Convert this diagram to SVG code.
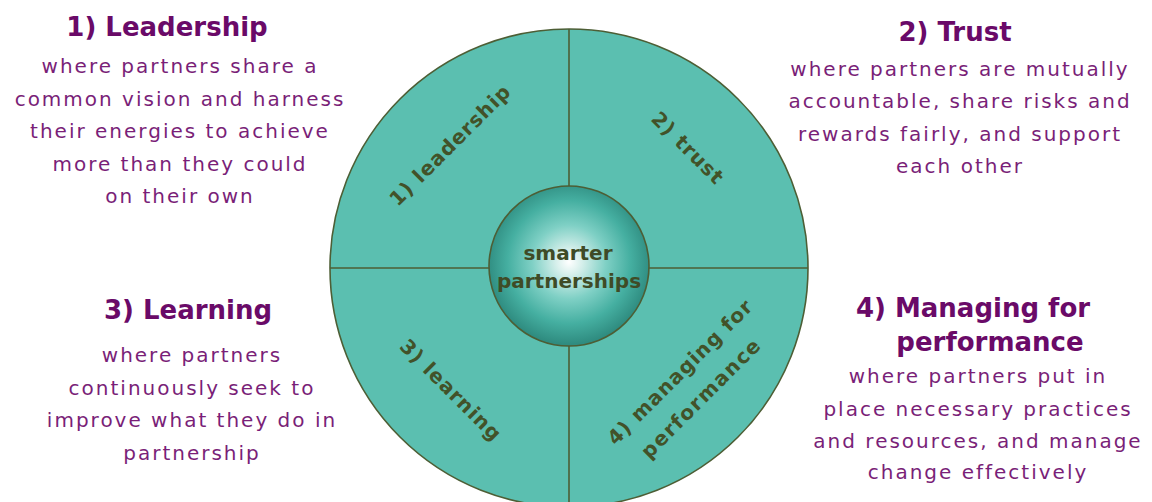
<svg xmlns="http://www.w3.org/2000/svg" width="1152" height="502" viewBox="0 0 1152 502">
  <defs>
    <radialGradient id="sphere" cx="569" cy="262" r="82" gradientUnits="userSpaceOnUse">
      <stop offset="0" stop-color="#ffffff"/>
      <stop offset="0.15" stop-color="#d8f0ec"/>
      <stop offset="0.45" stop-color="#7fd0c5"/>
      <stop offset="0.75" stop-color="#45afa1"/>
      <stop offset="1" stop-color="#2f8c80"/>
    </radialGradient>
    <style>
      .head { font-family: "DejaVu Sans", Verdana, sans-serif; font-weight: bold; font-size: 26px; fill: #6a0a68; text-anchor: middle; }
      .body { font-family: "DejaVu Sans", Verdana, sans-serif; font-size: 20px; letter-spacing: 2px; fill: #7a1f78; text-anchor: middle; }
      .lbl { font-family: "DejaVu Sans", Verdana, sans-serif; font-weight: bold; font-size: 20px; letter-spacing: 1px; fill: #425229; text-anchor: middle; }
      .ctr { font-family: "DejaVu Sans", Verdana, sans-serif; font-weight: bold; font-size: 20px; fill: #3f4b26; text-anchor: middle; }
      .edge { stroke: #4d5e35; stroke-width: 1.6; }
    </style>
  </defs>

  <rect width="1152" height="502" fill="#ffffff"/>

  <g id="wheel">
    <circle cx="569" cy="268" r="239" fill="#5bbfb0" class="edge"/>
  </g>

  <g id="connectors">
    <line x1="569" y1="29" x2="569" y2="507" class="edge"/>
    <line x1="330" y1="268" x2="808" y2="268" class="edge"/>
  </g>

  <g id="center">
    <circle cx="569" cy="266" r="80" fill="url(#sphere)" class="edge"/>
    <text class="ctr" x="568" y="260">smarter</text>
    <text class="ctr" x="569" y="288">partnerships</text>
  </g>

  <g id="q1-label">
    <text class="lbl" transform="translate(455,150) rotate(-45)">1) leadership</text>
  </g>
  <g id="q2-label">
    <text class="lbl" transform="translate(683,153) rotate(45)">2) trust</text>
  </g>
  <g id="q3-label">
    <text class="lbl" transform="translate(446,395) rotate(45)">3) learning</text>
  </g>
  <g id="q4-label">
    <text class="lbl" transform="translate(685,377) rotate(-45)">4) managing for</text>
    <text class="lbl" transform="translate(706,403) rotate(-45)" style="letter-spacing:1.5px">performance</text>
  </g>

  <g id="leadership">
    <text class="head" x="167" y="36">1) Leadership</text>
    <text class="body" x="180" y="73">where partners share a</text>
    <text class="body" x="180" y="105.5">common vision and harness</text>
    <text class="body" x="180" y="138">their energies to achieve</text>
    <text class="body" x="180" y="170.5">more than they could</text>
    <text class="body" x="180" y="203">on their own</text>
  </g>

  <g id="trust">
    <text class="head" x="955" y="41">2) Trust</text>
    <text class="body" x="960" y="75.5">where partners are mutually</text>
    <text class="body" x="960" y="108">accountable, share risks and</text>
    <text class="body" x="960" y="140.5">rewards fairly, and support</text>
    <text class="body" x="960" y="173">each other</text>
  </g>

  <g id="learning">
    <text class="head" x="188" y="319">3) Learning</text>
    <text class="body" x="192" y="362">where partners</text>
    <text class="body" x="192" y="394.5">continuously seek to</text>
    <text class="body" x="192" y="427">improve what they do in</text>
    <text class="body" x="192" y="459.5">partnership</text>
  </g>

  <g id="managing">
    <text class="head" x="973" y="317">4) Managing for</text>
    <text class="head" x="990" y="351">performance</text>
    <text class="body" x="978" y="383">where partners put in</text>
    <text class="body" x="978" y="415.5">place necessary practices</text>
    <text class="body" x="978" y="448">and resources, and manage</text>
    <text class="body" x="978" y="479">change effectively</text>
  </g>
</svg>
